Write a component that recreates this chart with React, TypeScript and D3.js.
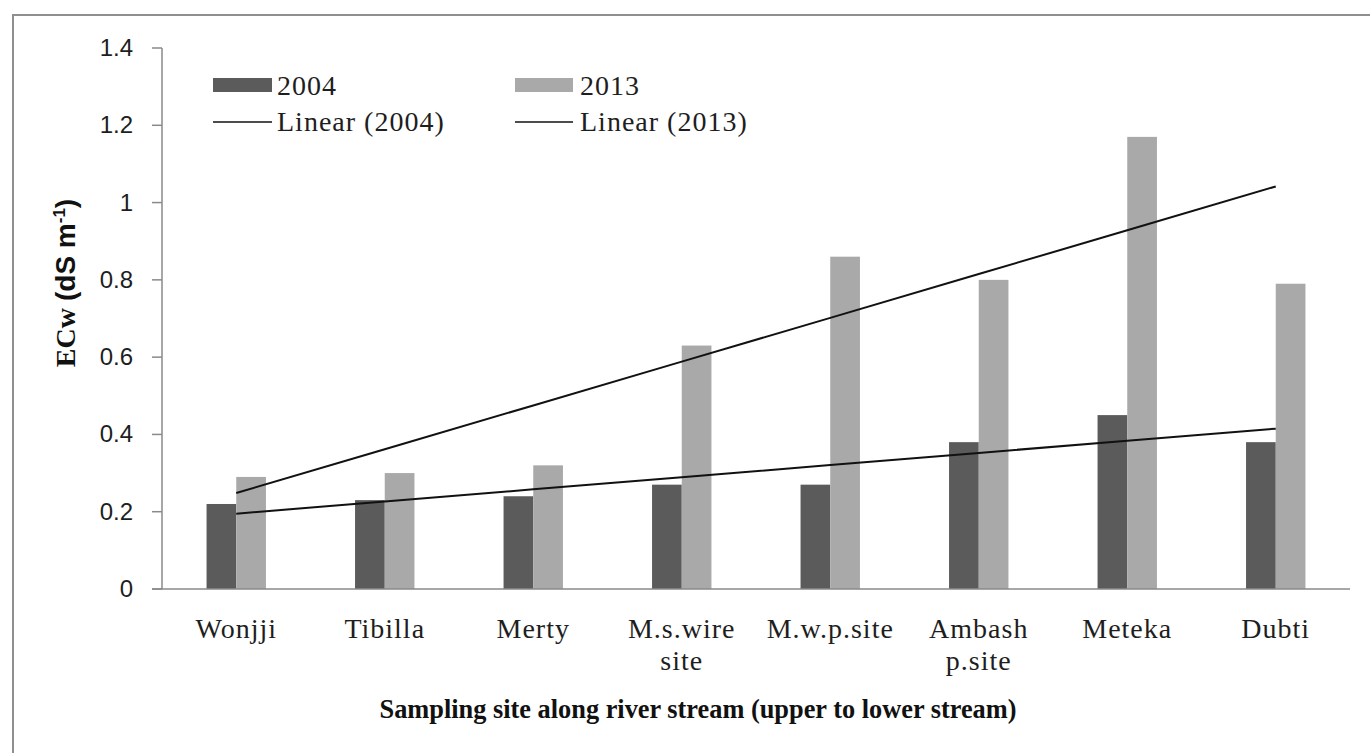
import React from "react";
import * as d3 from "d3";

const categories = ["Wonjji", "Tibilla", "Merty", "M.s.wire\nsite", "M.w.p.site", "Ambash\np.site", "Meteka", "Dubti"];
const series = ["2004", "2013"];
const values2004 = [0.22, 0.23, 0.24, 0.27, 0.27, 0.38, 0.45, 0.38];
const values2013 = [0.29, 0.30, 0.32, 0.63, 0.86, 0.80, 1.17, 0.79];
const yTicks = [0, 0.2, 0.4, 0.6, 0.8, 1, 1.2, 1.4];

const W = 1370;
const H = 753;
const left = 162;
const right = 1350;
const top = 48;
const bottom = 589;

function linearFit(vals: number[]) {
  const xs = vals.map((_, i) => i + 1);
  const mx = d3.mean(xs) as number;
  const my = d3.mean(vals) as number;
  let sxy = 0;
  let sxx = 0;
  xs.forEach((x, i) => {
    sxy += (x - mx) * (vals[i] - my);
    sxx += (x - mx) * (x - mx);
  });
  const b = sxy / sxx;
  const a = my - b * mx;
  return xs.map((x) => a + b * x);
}

export default function App() {
  const x = d3.scaleBand<string>().domain(categories).range([left, right]).paddingInner(0.6).paddingOuter(0.3);
  const xs = d3.scaleBand<string>().domain(series).range([0, x.bandwidth()]);
  const y = d3.scaleLinear().domain([0, 1.4]).range([bottom, top]);
  const colors: Record<string, string> = { "2004": "#5b5b5b", "2013": "#a9a9a9" };
  const data: Record<string, number[]> = { "2004": values2004, "2013": values2013 };
  const fit2004 = linearFit(values2004);
  const fit2013 = linearFit(values2013);
  const line = d3
    .line<number>()
    .x((_, i) => (x(categories[i]) as number) + x.bandwidth() / 2)
    .y((v) => y(v));
  const axisColor = "#8a8a8a";
  const serif = "'Liberation Serif', 'Times New Roman', serif";
  const sans = "'Liberation Sans', Arial, sans-serif";
  const txt = "#1e1e1e";

  return (
    <svg width={W} height={H} style={{ position: "absolute", left: 0, top: 0, background: "#fff" }}>
      <rect x={13} y={15} width={W + 20} height={H + 20} fill="#fff" stroke="#8f8f8f" strokeWidth={2} />
      {categories.map((c, i) =>
        series.map((s) => {
          const v = data[s][i];
          return (
            <rect
              key={c + s}
              x={(x(c) as number) + (xs(s) as number)}
              y={y(v)}
              width={xs.bandwidth()}
              height={y(0) - y(v)}
              fill={colors[s]}
            />
          );
        })
      )}
      <line x1={left} x2={left} y1={top} y2={bottom} stroke={axisColor} strokeWidth={1.5} />
      <line x1={left - 10} x2={right} y1={bottom} y2={bottom} stroke={axisColor} strokeWidth={1.5} />
      {yTicks.map((t) => (
        <g key={t}>
          <line x1={left - 10} x2={left} y1={y(t)} y2={y(t)} stroke={axisColor} strokeWidth={1.5} />
          <text x={133} y={y(t) + 8} textAnchor="end" fontFamily={sans} fontSize={24} fill={txt}>
            {String(t)}
          </text>
        </g>
      ))}
      <path d={line(fit2004) as string} fill="none" stroke="#111" strokeWidth={2} />
      <path d={line(fit2013) as string} fill="none" stroke="#111" strokeWidth={2} />
      {categories.map((c) => {
        const cx = (x(c) as number) + x.bandwidth() / 2;
        return (
          <text key={c} x={cx} y={638} textAnchor="middle" fontFamily={serif} fontSize={28} letterSpacing={1} fill={txt}>
            {c.split("\n").map((ln, k) => (
              <tspan key={k} x={cx} dy={k === 0 ? 0 : 32}>
                {ln}
              </tspan>
            ))}
          </text>
        );
      })}
      <text
        x={698}
        y={718}
        textAnchor="middle"
        fontFamily={serif}
        fontWeight="bold"
        fontSize={27}
        textLength={637}
        lengthAdjust="spacingAndGlyphs"
        fill="#111"
      >
        Sampling site along river stream (upper to lower stream)
      </text>
      <text transform="translate(75,283) rotate(-90)" textAnchor="middle" fontWeight="bold" fontSize={28} fill="#111">
        <tspan fontFamily={serif}>ECw </tspan>
        <tspan fontFamily={sans}>(dS m</tspan>
        <tspan fontFamily={sans} fontSize={17} dy={-10}>-1</tspan>
        <tspan fontFamily={sans} dy={10}>)</tspan>
      </text>
      <rect x={213} y={78} width={59} height={14} fill={colors["2004"]} />
      <text x={277} y={95} fontFamily={serif} fontSize={28} letterSpacing={1} fill={txt}>2004</text>
      <line x1={213} x2={272} y1={122} y2={122} stroke="#111" strokeWidth={1.5} />
      <text x={277} y={131} fontFamily={serif} fontSize={28} letterSpacing={1} fill={txt}>Linear (2004)</text>
      <rect x={515} y={78} width={58} height={14} fill={colors["2013"]} />
      <text x={580} y={95} fontFamily={serif} fontSize={28} letterSpacing={1} fill={txt}>2013</text>
      <line x1={515} x2={573} y1={122} y2={122} stroke="#111" strokeWidth={1.5} />
      <text x={580} y={131} fontFamily={serif} fontSize={28} letterSpacing={1} fill={txt}>Linear (2013)</text>
    </svg>
  );
}
